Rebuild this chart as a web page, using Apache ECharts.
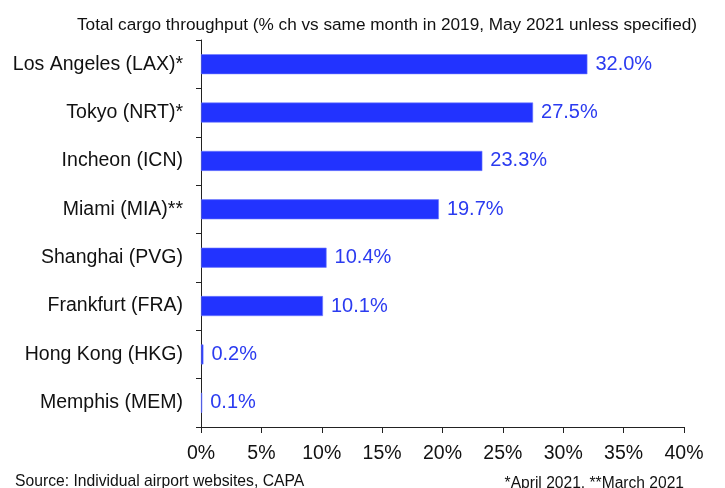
<!DOCTYPE html>
<html>
<head>
<meta charset="utf-8">
<script src="https://cdn.jsdelivr.net/npm/echarts@6/dist/echarts.min.js"></script>
<style>
  html, body { margin: 0; padding: 0; background: #fff; }
  #chart { width: 725px; height: 488px; }
</style>
</head>
<body>
<div id="chart"></div>
<script>
// airports, top to bottom as shown
const airports = [
  "Los Angeles (LAX)*",
  "Tokyo (NRT)*",
  "Incheon (ICN)",
  "Miami (MIA)**",
  "Shanghai (PVG)",
  "Frankfurt (FRA)",
  "Hong Kong (HKG)",
  "Memphis (MEM)"
];
// % change vs same month in 2019
const changes = [32.0, 27.5, 23.3, 19.7, 10.4, 10.1, 0.2, 0.1];

const font = "'Liberation Sans', Arial, sans-serif";

const chart = echarts.init(document.getElementById("chart"));
chart.setOption({
  animation: false,
  textStyle: { fontFamily: font },
  title: [
    {
      text: "Total cargo throughput (% ch vs same month in 2019, May 2021 unless specified)",
      left: 382,
      top: 12,
      textAlign: "center",
      textStyle: { fontSize: 17.2, fontWeight: "normal", color: "#111", fontFamily: font }
    },
    {
      text: "Source: Individual airport websites, CAPA",
      left: 10,
      top: 469,
      textStyle: { fontSize: 15.7, fontWeight: "normal", color: "#111", fontFamily: font }
    },
    {
      text: "*April 2021, **March 2021",
      right: 36,
      top: 471,
      textStyle: { fontSize: 15.6, fontWeight: "normal", color: "#111", fontFamily: font }
    }
  ],
  grid: { left: 201, right: 41, top: 40, bottom: 61 },
  xAxis: {
    type: "value",
    min: 0,
    max: 40,
    interval: 5,
    splitLine: { show: false },
    axisLine: { show: true, lineStyle: { color: "#222", width: 1 } },
    axisTick: { show: true, length: 6, lineStyle: { color: "#222" } },
    axisLabel: {
      formatter: "{value}%",
      fontSize: 19.5,
      color: "#111",
      margin: 17,
      fontFamily: font
    }
  },
  yAxis: {
    type: "category",
    data: airports,
    inverse: true,
    axisLine: { show: true, lineStyle: { color: "#222", width: 1 } },
    axisTick: { show: true, length: 5, lineStyle: { color: "#222" } },
    axisLabel: { fontSize: 19.5, color: "#111", margin: 18, fontFamily: font }
  },
  series: [
    {
      type: "bar",
      data: changes,
      barWidth: 20,
      itemStyle: { color: "#2233ff", borderColor: "#6f7bff", borderWidth: 0.6 },
      label: {
        show: true,
        position: "right",
        distance: 8,
        formatter: (p) => p.value.toFixed(1) + "%",
        fontSize: 20,
        color: "#2b3bf0",
        fontFamily: font
      }
    }
  ]
});
</script>
</body>
</html>
